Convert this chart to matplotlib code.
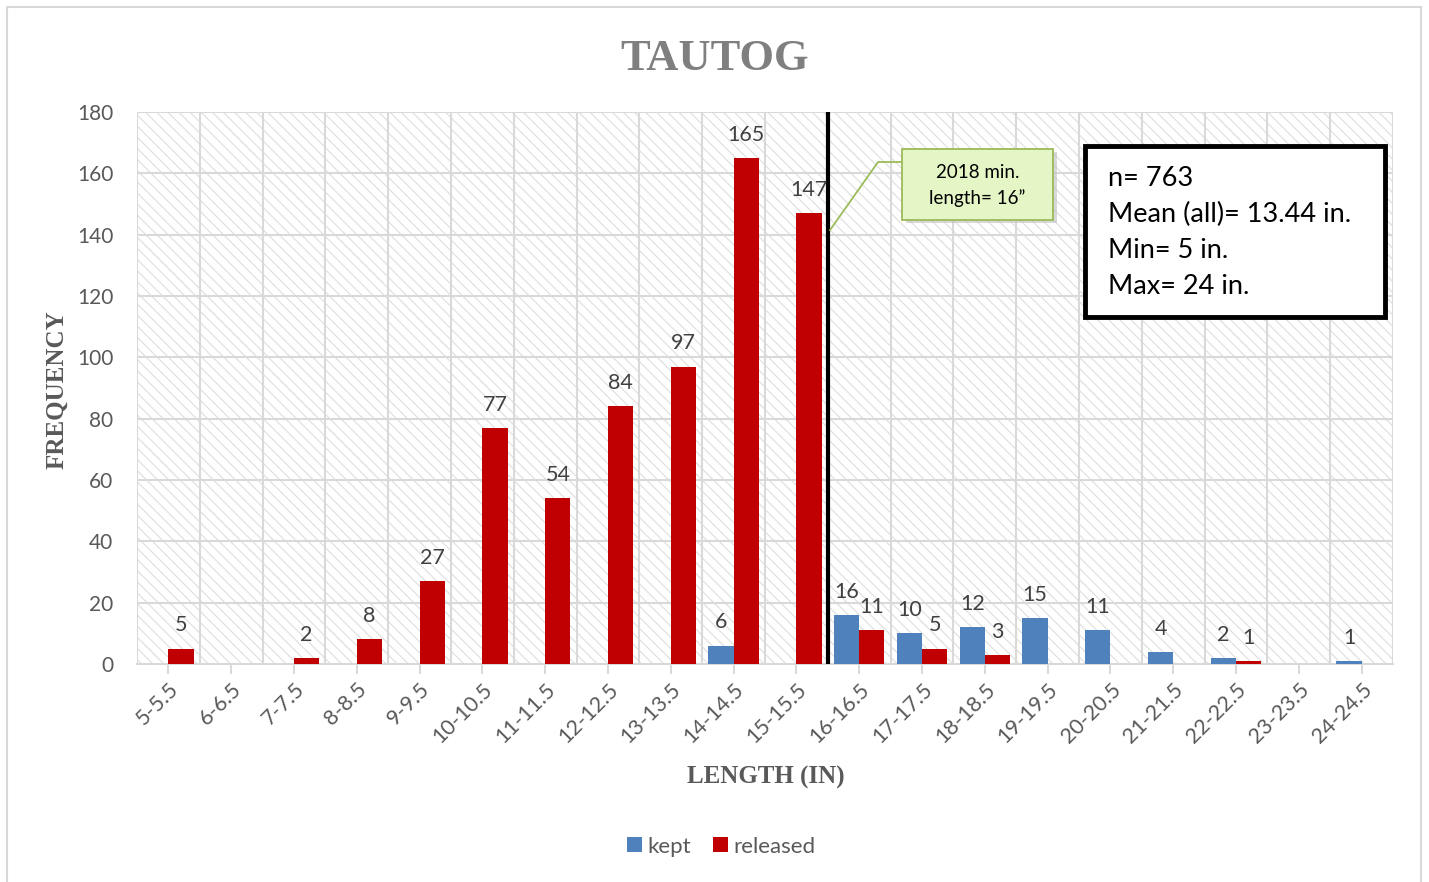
import numpy as np
import matplotlib
matplotlib.use("Agg")
import matplotlib.pyplot as plt
from matplotlib.patches import Rectangle

# length bins (inches)
bins = ["5-5.5", "6-6.5", "7-7.5", "8-8.5", "9-9.5", "10-10.5", "11-11.5",
        "12-12.5", "13-13.5", "14-14.5", "15-15.5", "16-16.5", "17-17.5",
        "18-18.5", "19-19.5", "20-20.5", "21-21.5", "22-22.5", "23-23.5",
        "24-24.5"]
kept = [0, 0, 0, 0, 0, 0, 0, 0, 0, 6, 0, 16, 10, 12, 15, 11, 4, 2, 0, 1]
released = [5, 0, 2, 8, 27, 77, 54, 84, 97, 165, 147, 11, 5, 3, 0, 0, 0, 1, 0, 0]
stats_lines = ["n= 763", "Mean (all)= 13.44 in.", "Min= 5 in.", "Max= 24 in."]
callout_text = "2018 min.\nlength= 16\u201d"
min_length_pos = 10.5  # boundary between 15-15.5 and 16-16.5

KEPT_C = "#4F81BD"
REL_C = "#C00000"
GRID_C = "#D9D9D9"
TXT_C = "#595959"
SANS = ["Lato", "DejaVu Sans"]
SERIF = ["Liberation Serif", "DejaVu Serif"]

plt.rcParams["hatch.linewidth"] = 0.8

fig = plt.figure(figsize=(14.29, 8.82), dpi=100)
ax = fig.add_axes([0.0959, 0.2472, 0.8789, 0.6258])

# outer chart frame
fig.patches.append(Rectangle((7 / 1429, -0.05), 1414 / 1429, 1.05 - 7 / 882,
                             transform=fig.transFigure, fill=False,
                             edgecolor=GRID_C, lw=1.5))

# hatched plot background
ax.add_patch(Rectangle((0, 0), 1, 1, transform=ax.transAxes, facecolor="white",
                       edgecolor="#DEDEDE", hatch="\\\\\\", lw=0, zorder=0))

x = np.arange(len(bins))
w = 0.4
ax.bar(x - w / 2, kept, w, color=KEPT_C, label="kept", zorder=3)
ax.bar(x + w / 2, released, w, color=REL_C, label="released", zorder=3)

for xi, v in zip(x, kept):
    if v:
        ax.text(xi - w / 2, v + 4.3, str(v), ha="center", va="bottom",
                fontsize=15.5, color="#404040", family=SANS, zorder=5)
for xi, v in zip(x, released):
    if v:
        ax.text(xi + w / 2, v + 4.3, str(v), ha="center", va="bottom",
                fontsize=15.5, color="#404040", family=SANS, zorder=5)

ax.set_xlim(-0.5, len(bins) - 0.5)
ax.set_ylim(0, 180)
ax.set_yticks(range(0, 181, 20))
ax.set_xticks(x)
ax.set_xticklabels(bins, rotation=45, ha="right", rotation_mode="anchor",
                   fontsize=15.5, color=TXT_C, family=SANS)
for lab in ax.get_yticklabels():
    lab.set_family(SANS)
ax.tick_params(axis="y", length=0, labelsize=15, labelcolor=TXT_C, pad=17)
ax.tick_params(axis="x", length=7, color=GRID_C, width=1.5, pad=4)

# grid
for yv in range(20, 181, 20):
    ax.axhline(yv, color=GRID_C, lw=1.5, zorder=1)
for xv in np.arange(-0.5, len(bins), 1.0):
    ax.axvline(xv, color=GRID_C, lw=1.5, zorder=1)
for s in ["top", "right", "left"]:
    ax.spines[s].set_visible(False)
ax.spines["bottom"].set_color(GRID_C)
ax.spines["bottom"].set_linewidth(1.5)
ax.spines["bottom"].set_zorder(2)

# minimum length line
ax.axvline(min_length_pos, color="black", lw=3, zorder=4)

# callout
ax.plot([10.535, 11.30, 11.68], [141.5, 163.7, 163.7], color="#9BBB59",
        lw=1.3, zorder=5, clip_on=False)
ax.add_patch(Rectangle((11.74, 143.9), 2.41, 23.0, facecolor="#BFBFBF",
                       edgecolor="none", alpha=0.6, zorder=5))
ax.add_patch(Rectangle((11.68, 144.8), 2.41, 23.0, facecolor="#E4F5C6",
                       edgecolor="#9BBB59", lw=1.3, zorder=6))
ax.text(12.885, 156.0, callout_text, ha="center", va="center", fontsize=13.5,
        color="black", family=SANS, zorder=7, linespacing=1.5)

# stats box
ax.add_patch(Rectangle((14.6, 113.1), 4.77, 55.8, facecolor="white",
                       edgecolor="black", lw=3.5, zorder=6))
for yv, line in zip([158.2, 146.5, 134.7, 123.0], stats_lines):
    ax.text(14.96, yv, line, ha="left", va="center", fontsize=19.5,
            color="black", family=SANS, zorder=7)

fig.text(0.5, 0.933, "TAUTOG", ha="center", va="center", fontsize=32,
         fontweight="bold", color="#7F7F7F", family=SERIF)
fig.text(0.040, 0.558, "FREQUENCY", ha="center", va="center", rotation=90,
         fontsize=18, fontweight="bold", color=TXT_C, family=SERIF)
fig.text(0.5356, 0.119, "LENGTH (IN)", ha="center", va="center", fontsize=18,
         fontweight="bold", color=TXT_C, family=SERIF)

leg = fig.legend(loc="center", bbox_to_anchor=(0.5047, 0.04), ncol=2,
                 frameon=False, prop={"family": SANS, "size": 16},
                 handlelength=0.65, handleheight=0.65, handletextpad=0.25,
                 columnspacing=1.0)
for t in leg.get_texts():
    t.set_color(TXT_C)

fig.savefig("out.png", dpi=100)
